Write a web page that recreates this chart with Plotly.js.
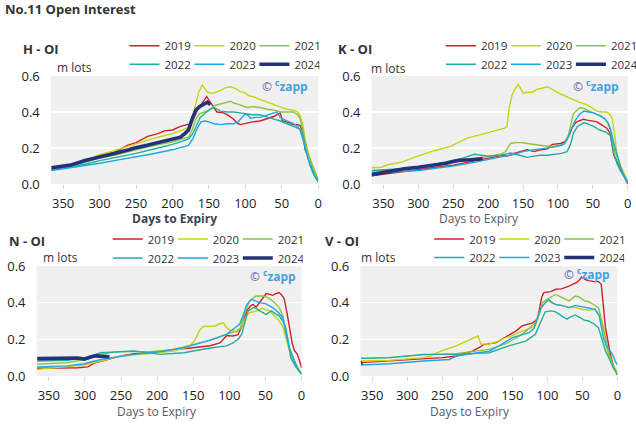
<!DOCTYPE html>
<html>
<head>
<meta charset="utf-8">
<script src="https://cdn.plot.ly/plotly-3.0.1.min.js"></script>
<style>html,body{margin:0;padding:0;background:#fff;}#chart{width:636px;height:429px;}</style>
</head>
<body>
<div id="chart"></div>
<script>
// ---------------- DATA (days to expiry, open interest in million lots) ----------------
const years = ['2019', '2020', '2021', '2022', '2023', '2024'];
const xTickVals = [0, 50, 100, 150, 200, 250, 300, 350];
const yTickVals = [0, 0.2, 0.4, 0.6];

// H contract
const H_2019_days = [366,340,320,300,280,262,250,234,220,211,200,189,180,175,170,165,161,156,153,149,143,139,130,125,116,110,107,98,90,80,70,61,55,52,49,43,34,28,25,21,18,14,11,6,2,0];
const H_2019_oi   = [0.085,0.105,0.125,0.155,0.175,0.215,0.23,0.265,0.28,0.295,0.30,0.32,0.33,0.335,0.37,0.42,0.44,0.47,0.485,0.46,0.42,0.40,0.395,0.385,0.36,0.335,0.33,0.34,0.345,0.35,0.365,0.375,0.39,0.395,0.35,0.345,0.33,0.33,0.325,0.29,0.19,0.16,0.13,0.08,0.04,0.02];
const H_2020_days = [366,340,320,302,280,252,235,220,200,189,180,175,172,168,164,159,155,152,147,143,134,127,120,113,107,100,95,89,80,70,60,52,43,34,28,25,21,18,14,11,6,2,0];
const H_2020_oi   = [0.085,0.10,0.125,0.16,0.185,0.22,0.24,0.26,0.28,0.295,0.31,0.325,0.38,0.45,0.51,0.55,0.53,0.51,0.505,0.505,0.52,0.535,0.54,0.53,0.515,0.505,0.49,0.485,0.47,0.455,0.44,0.43,0.415,0.41,0.40,0.38,0.33,0.25,0.18,0.12,0.07,0.03,0.015];
const H_2021_days = [366,340,320,300,280,250,230,200,185,178,173,168,163,155,150,143,135,125,120,116,107,98,90,80,70,60,52,43,34,28,25,21,16,12,7,3,0];
const H_2021_oi   = [0.08,0.10,0.12,0.145,0.16,0.19,0.21,0.235,0.25,0.26,0.30,0.36,0.39,0.40,0.41,0.435,0.445,0.455,0.46,0.45,0.44,0.425,0.43,0.425,0.415,0.41,0.40,0.40,0.40,0.385,0.365,0.30,0.20,0.15,0.10,0.05,0.02];
const H_2022_days = [366,340,320,300,280,250,230,200,185,178,172,167,162,156,150,143,138,134,125,116,107,98,90,80,70,61,52,43,34,28,25,21,18,14,9,4,0];
const H_2022_oi   = [0.08,0.095,0.11,0.13,0.145,0.17,0.19,0.22,0.24,0.25,0.28,0.33,0.37,0.39,0.41,0.425,0.415,0.405,0.40,0.40,0.395,0.39,0.385,0.385,0.37,0.36,0.35,0.335,0.32,0.31,0.305,0.27,0.20,0.14,0.085,0.04,0.02];
const H_2023_days = [366,340,320,300,280,250,230,200,185,178,172,167,161,155,150,143,134,125,116,110,107,100,96,93,86,80,72,66,61,57,52,43,34,28,25,21,18,14,11,6,2,0];
const H_2023_oi   = [0.075,0.09,0.105,0.115,0.13,0.15,0.165,0.19,0.205,0.215,0.25,0.30,0.345,0.35,0.345,0.335,0.33,0.335,0.335,0.345,0.36,0.39,0.38,0.365,0.37,0.37,0.38,0.39,0.395,0.40,0.37,0.35,0.335,0.32,0.30,0.25,0.20,0.15,0.10,0.05,0.02,0.01];
const H_2024_days = [366,340,320,302,280,260,252,235,220,202,195,189,183,178,173,168,163,157,152,148];
const H_2024_oi   = [0.09,0.105,0.13,0.15,0.17,0.19,0.20,0.215,0.23,0.243,0.25,0.26,0.28,0.30,0.36,0.41,0.43,0.445,0.455,0.44];

// K contract
const K_2019_days = [367,340,320,300,280,250,230,200,185,180,172,163,155,144,134,125,115,112,108,96,90,85,80,75,70,63,58,50,44,38,30,25,20,15,10,5,0];
const K_2019_oi   = [0.045,0.06,0.07,0.08,0.09,0.105,0.12,0.14,0.155,0.16,0.155,0.17,0.18,0.19,0.18,0.19,0.195,0.21,0.22,0.225,0.235,0.26,0.31,0.34,0.35,0.36,0.355,0.35,0.345,0.33,0.31,0.28,0.16,0.12,0.08,0.04,0.0];
const K_2020_days = [367,353,344,325,301,277,253,240,230,215,206,187,176,173,170,166,162,157,153,150,144,137,130,122,115,110,106,96,90,80,70,58,50,44,38,30,25,22,18,15,10,6,3,0];
const K_2020_oi   = [0.09,0.093,0.107,0.12,0.155,0.185,0.21,0.235,0.255,0.27,0.28,0.30,0.31,0.32,0.42,0.49,0.525,0.555,0.53,0.505,0.51,0.51,0.525,0.535,0.54,0.53,0.52,0.50,0.49,0.47,0.455,0.44,0.42,0.405,0.40,0.40,0.385,0.36,0.25,0.15,0.10,0.07,0.04,0.01];
const K_2021_days = [367,340,300,270,250,220,200,182,175,172,168,160,150,144,135,125,115,106,95,91,86,82,78,73,68,63,58,50,44,39,33,30,25,20,15,10,5,0];
const K_2021_oi   = [0.07,0.075,0.09,0.11,0.12,0.14,0.155,0.165,0.18,0.20,0.225,0.23,0.23,0.225,0.22,0.215,0.21,0.21,0.215,0.22,0.25,0.32,0.39,0.41,0.425,0.42,0.41,0.395,0.385,0.38,0.365,0.35,0.30,0.20,0.14,0.09,0.05,0.01];
const K_2022_days = [367,340,300,275,250,235,220,210,200,182,168,160,150,144,135,125,115,106,95,87,82,78,72,63,58,49,40,30,25,20,15,10,5,0];
const K_2022_oi   = [0.075,0.08,0.09,0.11,0.13,0.145,0.165,0.16,0.155,0.16,0.172,0.165,0.155,0.148,0.155,0.16,0.16,0.163,0.17,0.18,0.22,0.28,0.32,0.34,0.335,0.32,0.30,0.285,0.27,0.17,0.11,0.07,0.04,0.01];
const K_2023_days = [367,340,300,270,250,220,200,182,163,150,144,125,115,106,95,91,86,80,75,68,63,56,49,40,34,28,25,20,16,10,5,0];
const K_2023_oi   = [0.06,0.065,0.075,0.09,0.10,0.12,0.135,0.15,0.165,0.18,0.185,0.195,0.20,0.205,0.215,0.225,0.26,0.31,0.355,0.39,0.405,0.40,0.395,0.38,0.365,0.34,0.31,0.23,0.17,0.09,0.04,0.01];
const K_2024_days = [367,340,320,300,280,260,250,240,225,215,208];
const K_2024_oi   = [0.052,0.07,0.085,0.093,0.103,0.115,0.125,0.132,0.135,0.14,0.14];

// N contract
const N_2019_days = [366,330,310,296,287,269,250,232,205,190,177,160,150,127,113,106,104,95,88,83,76,70,67,63,58,54,49,44,40,35,31,27,24,20,17,13,10,6,3,0];
const N_2019_oi   = [0.042,0.044,0.045,0.05,0.07,0.09,0.11,0.122,0.127,0.135,0.145,0.15,0.155,0.165,0.18,0.215,0.22,0.218,0.225,0.27,0.355,0.385,0.39,0.375,0.40,0.425,0.45,0.445,0.44,0.45,0.455,0.44,0.42,0.34,0.26,0.18,0.14,0.12,0.085,0.045];
const N_2020_days = [366,324,301,278,250,209,177,160,154,147,141,136,131,120,113,108,104,99,90,86,81,76,72,63,58,54,49,44,38,31,26,22,17,12,6,0];
const N_2020_oi   = [0.036,0.05,0.06,0.082,0.11,0.122,0.136,0.155,0.165,0.20,0.25,0.27,0.272,0.273,0.285,0.29,0.265,0.25,0.24,0.255,0.29,0.33,0.345,0.355,0.36,0.37,0.36,0.355,0.33,0.30,0.27,0.21,0.14,0.08,0.04,0.01];
const N_2021_days = [366,324,300,278,255,209,177,150,122,104,90,85,81,76,72,67,63,54,48,40,31,26,22,17,12,6,0];
const N_2021_oi   = [0.064,0.073,0.09,0.118,0.133,0.133,0.145,0.173,0.20,0.227,0.245,0.26,0.318,0.37,0.41,0.425,0.436,0.436,0.43,0.41,0.373,0.33,0.227,0.15,0.10,0.05,0.01];
const N_2022_days = [366,324,300,278,232,195,163,131,104,95,88,83,78,74,67,63,58,49,42,36,31,26,22,18,15,8,0];
const N_2022_oi   = [0.082,0.085,0.10,0.127,0.136,0.118,0.127,0.15,0.164,0.18,0.20,0.227,0.30,0.355,0.373,0.37,0.355,0.336,0.355,0.34,0.327,0.30,0.264,0.18,0.10,0.05,0.01];
const N_2023_days = [366,324,301,278,232,195,163,131,104,86,80,76,69,63,58,50,40,33,26,22,17,10,4,0];
const N_2023_oi   = [0.05,0.055,0.067,0.09,0.118,0.133,0.155,0.19,0.227,0.282,0.34,0.39,0.418,0.41,0.40,0.395,0.373,0.35,0.318,0.25,0.155,0.08,0.03,0.01];
const N_2024_days = [366,340,320,310,301,297,292,285,278,272,266];
const N_2024_oi   = [0.095,0.095,0.097,0.098,0.092,0.098,0.104,0.11,0.108,0.11,0.105];

// V contract
const V_2019_days = [366,325,277,250,230,215,207,195,192,173,165,155,145,136,128,121,114,111,108,105,95,88,80,69,63,58,54,51,45,41,33,27,23,20,17,13,10,6,3,0];
const V_2019_oi   = [0.073,0.082,0.096,0.10,0.109,0.125,0.136,0.16,0.17,0.182,0.20,0.218,0.245,0.273,0.28,0.29,0.31,0.38,0.43,0.455,0.46,0.473,0.475,0.49,0.50,0.51,0.525,0.54,0.525,0.52,0.515,0.515,0.50,0.40,0.264,0.18,0.118,0.06,0.027,0.005];
const V_2020_days = [366,325,277,265,263,249,230,211,203,199,195,183,170,159,150,136,125,117,112,107,100,88,80,69,60,51,40,32,27,22,17,13,8,3,0];
const V_2020_oi   = [0.082,0.085,0.10,0.11,0.118,0.14,0.164,0.195,0.21,0.218,0.175,0.173,0.19,0.209,0.22,0.245,0.26,0.273,0.33,0.40,0.41,0.39,0.385,0.373,0.375,0.364,0.36,0.364,0.34,0.282,0.18,0.118,0.07,0.036,0.02];
const V_2021_days = [366,325,277,230,183,159,136,117,110,107,100,88,80,69,60,54,47,41,34,27,22,17,12,8,4,0];
const V_2021_oi   = [0.096,0.10,0.115,0.122,0.145,0.176,0.227,0.29,0.36,0.40,0.42,0.445,0.43,0.41,0.436,0.43,0.41,0.405,0.39,0.373,0.30,0.209,0.12,0.082,0.04,0.01];
const V_2022_days = [366,325,277,230,183,155,131,117,110,103,95,88,79,72,69,60,54,47,41,34,27,22,17,11,6,0];
const V_2022_oi   = [0.096,0.10,0.118,0.118,0.127,0.164,0.19,0.227,0.29,0.35,0.355,0.35,0.327,0.31,0.318,0.333,0.32,0.305,0.30,0.285,0.264,0.20,0.136,0.09,0.045,0.01];
const V_2023_days = [366,325,277,249,240,230,183,169,150,126,119,114,109,105,98,93,88,80,69,60,51,40,32,26,20,15,10,6,3,0];
const V_2023_oi   = [0.06,0.067,0.082,0.085,0.09,0.109,0.136,0.164,0.209,0.236,0.26,0.318,0.37,0.39,0.418,0.40,0.39,0.385,0.373,0.385,0.38,0.37,0.364,0.33,0.209,0.16,0.136,0.11,0.082,0.06];
const V_2024_days = [366,365,364];
const V_2024_oi   = [0.070,0.071,0.072];

// ---------------- STYLE ----------------
const W = 636, H = 429;
const FONT = '"Open Sans", "Noto Sans", sans-serif';
const yearColor = {'2019':'#d21f26','2020':'#c9d30f','2021':'#8cc43f','2022':'#1fb09d','2023':'#1ea7e3','2024':'#25327a'};
const yearWidth = {'2019':1.4,'2020':1.4,'2021':1.4,'2022':1.4,'2023':1.4,'2024':3.6};

const panels = [
  {key:'H', ax:'', series:[[H_2019_days,H_2019_oi],[H_2020_days,H_2020_oi],[H_2021_days,H_2021_oi],[H_2022_days,H_2022_oi],[H_2023_days,H_2023_oi],[H_2024_days,H_2024_oi]]},
  {key:'K', ax:'2', series:[[K_2019_days,K_2019_oi],[K_2020_days,K_2020_oi],[K_2021_days,K_2021_oi],[K_2022_days,K_2022_oi],[K_2023_days,K_2023_oi],[K_2024_days,K_2024_oi]]},
  {key:'N', ax:'3', series:[[N_2019_days,N_2019_oi],[N_2020_days,N_2020_oi],[N_2021_days,N_2021_oi],[N_2022_days,N_2022_oi],[N_2023_days,N_2023_oi],[N_2024_days,N_2024_oi]]},
  {key:'V', ax:'4', series:[[V_2019_days,V_2019_oi],[V_2020_days,V_2020_oi],[V_2021_days,V_2021_oi],[V_2022_days,V_2022_oi],[V_2023_days,V_2023_oi],[V_2024_days,V_2024_oi]]}
];

// plot-area boxes in pixels: [left, right, top, bottom]
const boxes = {
  H:[51, 319.7, 76, 184],
  K:[373.3, 630.7, 76, 184],
  N:[36.7, 303, 266, 376],
  V:[362, 620.3, 266, 376]
};
// legend line-start positions [x col1, row1 y, row2 y]
const legPos = {
  H:[130, 45.7, 64.3],
  K:[448, 45.7, 64.3],
  N:[113.3, 239, 258],
  V:[436.3, 239, 257.5]
};

const traces = [];
panels.forEach((p, pi) => {
  p.series.forEach((s, yi) => {
    const yr = years[yi];
    const legIdx = pi * 2 + (yi < 3 ? 1 : 2);
    traces.push({
      type:'scatter', mode:'lines',
      x:s[0], y:s[1], name:yr,
      xaxis:'x'+p.ax, yaxis:'y'+p.ax,
      legend: legIdx === 1 ? 'legend' : 'legend'+legIdx,
      line:{color:yearColor[yr], width:yearWidth[yr]},
      hoverinfo:'skip'
    });
  });
});

const px = v => v / W;
const py = v => 1 - v / H;

const layout = {
  width:W, height:H,
  margin:{l:0,r:0,t:0,b:0,pad:0},
  paper_bgcolor:'#ffffff',
  plot_bgcolor:'#f0f0f0',
  font:{family:FONT, size:13, color:'#333'},
  showlegend:true,
  annotations:[],
  shapes:[]
};

panels.forEach((p, pi) => {
  const b = boxes[p.key];
  layout['xaxis'+p.ax] = {
    domain:[px(b[0]), px(b[1])], anchor:'y'+p.ax,
    range:[367,0], tickvals:xTickVals, ticktext:xTickVals.map(String),
    ticks:'outside', ticklen:4, tickcolor:'#d6d6d6', tickwidth:1,
    ticklabelstandoff:3,
    showgrid:false, zeroline:false, showline:false,
    tickfont:{size:13, color:'#222'}, fixedrange:true
  };
  layout['yaxis'+p.ax] = {
    domain:[py(b[3]), py(b[2])], anchor:'x'+p.ax,
    range:[0,0.6], tickvals:yTickVals, tickformat:'.1f',
    ticks:'', ticklabelstandoff:10,
    showgrid:true, gridcolor:'#ffffff', gridwidth:1.5,
    zeroline:false, showline:false,
    tickfont:{size:13, color:'#222'}, fixedrange:true
  };
  const lp = legPos[p.key];
  [1,2].forEach(r => {
    const idx = pi*2 + r;
    layout[idx === 1 ? 'legend' : 'legend'+idx] = {
      orientation:'h', x:px(lp[0]-5), xanchor:'left',
      y:py(r===1 ? lp[1] : lp[2]), yanchor:'middle',
      bgcolor:'rgba(0,0,0,0)', borderwidth:0,
      font:{size:11.5, color:'#333', family:FONT},
      entrywidth:20, entrywidthmode:'pixels', itemwidth:30,
      traceorder:'normal', itemclick:false, itemdoubleclick:false
    };
  });
});

// Titles & labels
const ann = (text, x, y, opts) => Object.assign({
  text, x:px(x), y:py(y), xref:'paper', yref:'paper', showarrow:false,
  xanchor:'left', yanchor:'middle', font:{family:FONT, size:12, color:'#333'}
}, opts || {});

layout.annotations.push(ann('<b>No.11 Open Interest</b>', 3, 9.5, {font:{family:FONT,size:13,color:'#333'}}));
const titlePos = {H:[20.7,49], K:[338,48.5], N:[6.7,241], V:[324.7,240.7]};
const unitPos = {H:[55.7,67.7], K:[370.7,68.3], N:[41,257.7], V:[360.7,257.7]};
const axTitlePos = {H:[175.5,218], K:[481.7,218], N:[158,411], V:[472,411]};
const wmPos = {H:[311.3,86], K:[624,86], N:[299,276.3], V:[615.3,274.3]};
panels.forEach(p => {
  const t = titlePos[p.key], u = unitPos[p.key], a = axTitlePos[p.key], w = wmPos[p.key];
  layout.annotations.push(ann('<b>'+p.key+' - OI</b>', t[0], t[1], {font:{family:FONT,size:13,color:'#333'}}));
  layout.annotations.push(ann('m lots', u[0], u[1], {font:{family:FONT,size:12,color:'#333'}}));
  layout.annotations.push(ann(p.key==='H' ? '<b>Days to Expiry</b>' : 'Days to Expiry', a[0], a[1],
    {xanchor:'center', font:{family:FONT,size:12,color: p.key==='H' ? '#3b4354' : '#525c6c'}}));
  layout.annotations.push(ann('<span style="color:#7b7fb8">©</span> <span style="color:#45a2de"><sup>c</sup>zapp</span>', w[0], w[1],
    {xanchor:'right', font:{family:FONT,size:12,color:'#45a2de',weight:'bold'}}));
});

Plotly.newPlot('chart', traces, layout, {staticPlot:true, displayModeBar:false});
</script>
</body>
</html>
